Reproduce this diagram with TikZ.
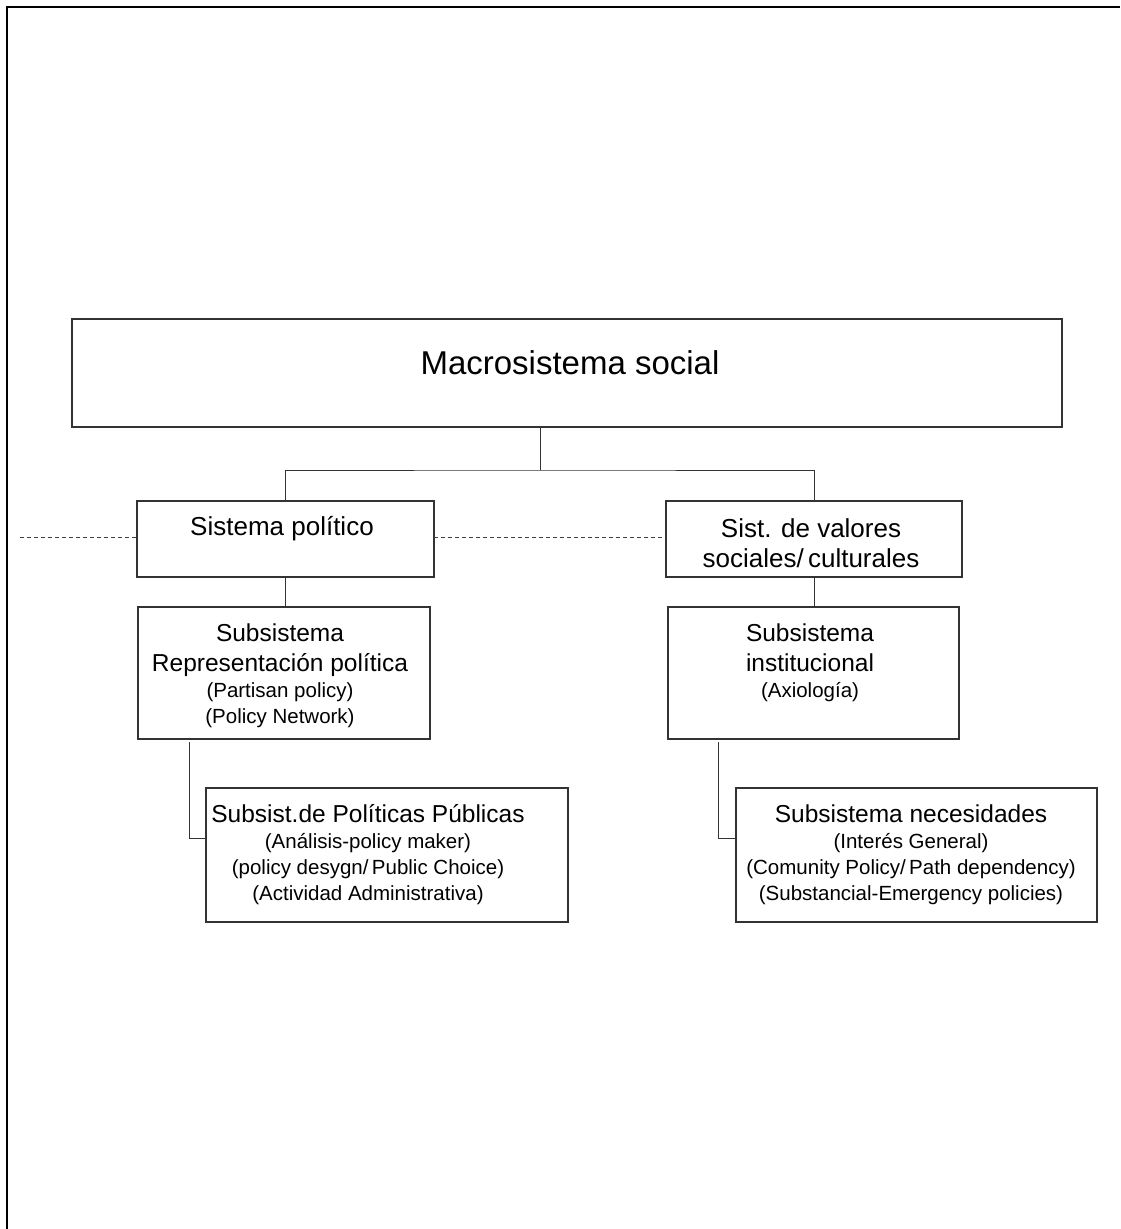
\documentclass[tikz,border=0pt]{standalone}
\usepackage{fontspec}
\setmainfont{Liberation Sans}
\begin{document}
\begin{tikzpicture}[x=1pt,y=-1pt,
  box/.style={draw=black!80,line width=1.1pt,inner sep=0pt,outer sep=0pt},
  link/.style={draw=black!80,line width=0.9pt},
  dashlink/.style={draw=black!75,line width=0.9pt,dash pattern=on 4pt off 3pt},
  txt/.style={anchor=base,inner sep=0pt,text=black},
  bigtxt/.style={txt,font=\fontsize{33}{40}\selectfont},
  midtxt/.style={txt,font=\fontsize{26}{31}\selectfont},
  subtxt/.style={txt,font=\fontsize{24.5}{29}\selectfont},
  notetxt/.style={txt,font=\fontsize{20.5}{24}\selectfont}]
\useasboundingbox (0,0) rectangle (1120,1229);

% page frame (top and left edges)
\draw[line width=2.6pt] (7,1229) -- (7,7) -- (1120,7);

% boxes
\node[box,minimum width=990pt,minimum height=108pt] (macro) at (567,373) {};
\node[box,minimum width=297pt,minimum height=76pt] (sp) at (285.5,539) {};
\node[box,minimum width=296pt,minimum height=76pt] (sv) at (814,539) {};
\node[box,minimum width=292pt,minimum height=132pt] (rep) at (284,673) {};
\node[box,minimum width=291pt,minimum height=132pt] (inst) at (813.5,673) {};
\node[box,minimum width=362pt,minimum height=134pt] (pub) at (387,855) {};
\node[box,minimum width=361pt,minimum height=134pt] (nec) at (916.5,855) {};

% texts
\node[bigtxt] (tmacro) at (570,374) {Macrosistema social};
\node[midtxt] (tsp) at (282,535) {Sistema político};
\node[midtxt] (tsv1) at (811,537) {Sist. de valores};
\node[midtxt] (tsv2) at (811,567) {sociales/\,culturales};

\node[subtxt] (trep1) at (280,641) {Subsistema};
\node[subtxt] (trep2) at (280,671) {Representación política};
\node[notetxt] (trep3) at (280,697) {(Partisan policy)};
\node[notetxt] (trep4) at (280,723) {(Policy Network)};

\node[subtxt] (tinst1) at (810,641) {Subsistema};
\node[subtxt] (tinst2) at (810,671) {institucional};
\node[notetxt] (tinst3) at (810,697) {(Axiología)};

\node[subtxt] (tpub1) at (368,822) {Subsist.de Políticas Públicas};
\node[notetxt] (tpub2) at (368,848) {(Análisis-policy maker)};
\node[notetxt] (tpub3) at (368,874) {(policy desygn/\,Public Choice)};
\node[notetxt] (tpub4) at (368,900) {(Actividad Administrativa)};

\node[subtxt] (tnec1) at (911,822) {Subsistema necesidades};
\node[notetxt] (tnec2) at (911,848) {(Interés General)};
\node[notetxt] (tnec3) at (911,874) {(Comunity Policy/\,Path dependency)};
\node[notetxt] (tnec4) at (911,900) {(Substancial-Emergency policies)};

% connectors
\coordinate (split) at (540,470);
\draw[link] (macro.south -| split) -- (split);
\draw[link] (sp.north) |- (split) -| (sv.north);
\draw[link] (sp.south) -- (sp.south |- rep.north);
\draw[link] (sv.south) -- (sv.south |- inst.north);

\coordinate (lk) at (189,838);
\draw[link] ([yshift=-3pt]rep.south -| lk) -- (lk) -- (lk -| pub.west);
\coordinate (rk) at (718,838);
\draw[link] ([yshift=-3pt]inst.south -| rk) -- (rk) -- (rk -| nec.west);

\coordinate (dl) at (20,537);
\draw[dashlink] (dl) -- (dl -| sp.west);
\draw[dashlink] (sp.east |- dl) -- (sv.west |- dl);
\end{tikzpicture}
\end{document}
